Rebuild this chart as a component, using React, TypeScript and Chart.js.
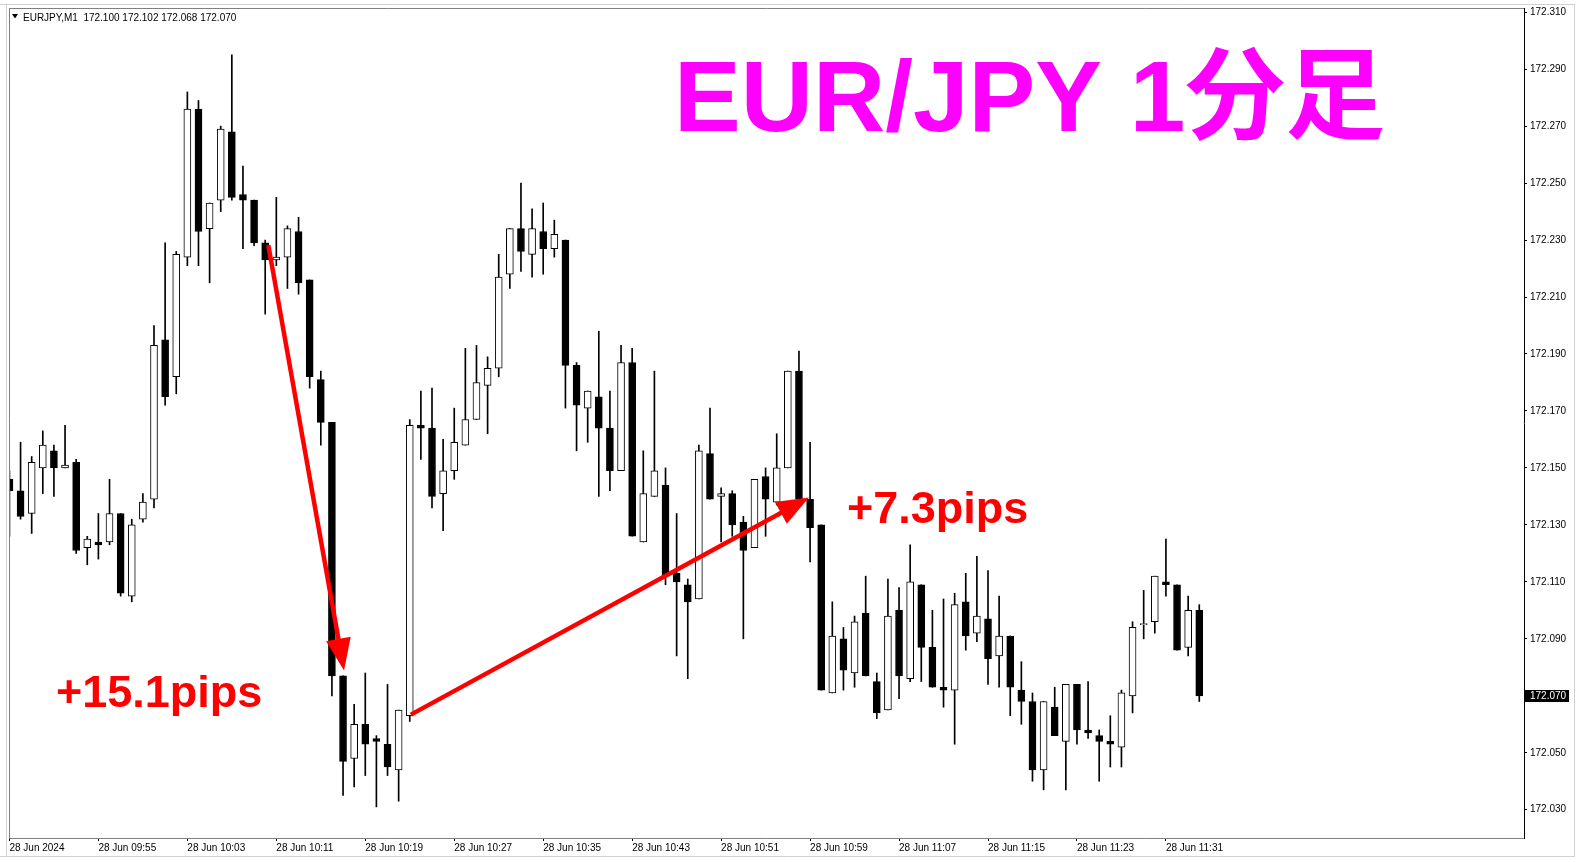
import React, { useEffect, useRef } from "react";
import { Chart, registerables } from "chart.js";

Chart.register(...registerables);

// ---- data (EURJPY M1, 28 Jun 2024 09:47 – 11:34) ----
const opens = [
  172.146, 172.142, 172.134, 172.150, 172.156, 172.150, 172.152, 172.122, 172.124, 172.124,
  172.134, 172.105, 172.132, 172.139, 172.195, 172.182, 172.224, 172.276, 172.234, 172.244,
  172.268, 172.246, 172.244, 172.229, 172.223, 172.224, 172.233, 172.216, 172.181, 172.166,
  172.077, 172.048, 172.060, 172.055, 172.053, 172.044, 172.063, 172.165, 172.164, 172.141,
  172.149, 172.158, 172.167, 172.179, 172.185, 172.218, 172.234, 172.225, 172.233, 172.227,
  172.230, 172.186, 172.171, 172.175, 172.164, 172.149, 172.187, 172.124, 172.140, 172.144,
  172.113, 172.109, 172.104, 172.155, 172.140, 172.141, 172.131, 172.122, 172.147, 172.138,
  172.150, 172.184, 172.139, 172.130, 172.071, 172.090, 172.078, 172.099, 172.075, 172.065,
  172.100, 172.076, 172.109, 172.087, 172.073, 172.072, 172.103, 172.092, 172.097, 172.084,
  172.091, 172.072, 172.068, 172.044, 172.066, 172.054, 172.074, 172.058, 172.056, 172.054,
  172.052, 172.070, 172.095, 172.096, 172.110, 172.109, 172.087, 172.100,
];
const highs = [
  172.149, 172.159, 172.154, 172.163, 172.158, 172.165, 172.153, 172.126, 172.134, 172.146,
  172.134, 172.132, 172.141, 172.200, 172.229, 172.226, 172.282, 172.279, 172.243, 172.270,
  172.295, 172.256, 172.244, 172.230, 172.245, 172.235, 172.238, 172.216, 172.184, 172.166,
  172.077, 172.067, 172.078, 172.056, 172.074, 172.065, 172.167, 172.177, 172.178, 172.160,
  172.171, 172.192, 172.193, 172.189, 172.225, 172.234, 172.250, 172.241, 172.243, 172.237,
  172.230, 172.187, 172.177, 172.198, 172.177, 172.193, 172.192, 172.156, 172.184, 172.150,
  172.134, 172.111, 172.158, 172.171, 172.143, 172.142, 172.133, 172.146, 172.150, 172.162,
  172.184, 172.191, 172.159, 172.130, 172.103, 172.094, 172.098, 172.112, 172.078, 172.111,
  172.108, 172.123, 172.109, 172.100, 172.104, 172.106, 172.113, 172.119, 172.114, 172.105,
  172.091, 172.082, 172.071, 172.068, 172.073, 172.074, 172.074, 172.075, 172.058, 172.063,
  172.072, 172.096, 172.107, 172.112, 172.125, 172.109, 172.105, 172.102,
];
const lows = [
  172.126, 172.132, 172.127, 172.141, 172.140, 172.150, 172.120, 172.116, 172.118, 172.123,
  172.105, 172.103, 172.131, 172.136, 172.172, 172.176, 172.221, 172.221, 172.215, 172.240,
  172.244, 172.227, 172.228, 172.204, 172.221, 172.213, 172.211, 172.178, 172.158, 172.070,
  172.035, 172.038, 172.042, 172.031, 172.042, 172.033, 172.061, 172.153, 172.136, 172.128,
  172.146, 172.158, 172.167, 172.162, 172.182, 172.213, 172.219, 172.217, 172.218, 172.224,
  172.171, 172.156, 172.159, 172.140, 172.142, 172.149, 172.126, 172.124, 172.140, 172.109,
  172.084, 172.076, 172.104, 172.139, 172.124, 172.126, 172.090, 172.122, 172.126, 172.137,
  172.150, 172.139, 172.117, 172.072, 172.071, 172.072, 172.073, 172.077, 172.062, 172.065,
  172.069, 172.075, 172.075, 172.073, 172.066, 172.053, 172.086, 172.089, 172.074, 172.073,
  172.063, 172.060, 172.040, 172.037, 172.056, 172.037, 172.053, 172.055, 172.040, 172.045,
  172.045, 172.064, 172.090, 172.092, 172.105, 172.086, 172.084, 172.068,
];
const closes = [
  172.142, 172.133, 172.152, 172.158, 172.150, 172.151, 172.121, 172.125, 172.123, 172.134,
  172.106, 172.130, 172.138, 172.193, 172.175, 172.225, 172.276, 172.233, 172.243, 172.269,
  172.245, 172.244, 172.229, 172.223, 172.224, 172.234, 172.215, 172.182, 172.166, 172.077,
  172.047, 172.060, 172.053, 172.054, 172.045, 172.065, 172.165, 172.164, 172.140, 172.149,
  172.159, 172.167, 172.180, 172.185, 172.217, 172.234, 172.226, 172.234, 172.227, 172.232,
  172.186, 172.172, 172.177, 172.164, 172.149, 172.187, 172.126, 172.141, 172.149, 172.112,
  172.110, 172.103, 172.156, 172.139, 172.141, 172.130, 172.121, 172.146, 172.139, 172.150,
  172.184, 172.139, 172.129, 172.072, 172.091, 172.079, 172.096, 172.077, 172.064, 172.098,
  172.077, 172.110, 172.087, 172.073, 172.072, 172.102, 172.091, 172.098, 172.083, 172.091,
  172.073, 172.068, 172.044, 172.068, 172.056, 172.074, 172.058, 172.057, 172.054, 172.053,
  172.071, 172.094, 172.095, 172.112, 172.109, 172.086, 172.100, 172.070,
];

const timeLabels = [
  "28 Jun 2024", "28 Jun 09:55", "28 Jun 10:03", "28 Jun 10:11", "28 Jun 10:19",
  "28 Jun 10:27", "28 Jun 10:35", "28 Jun 10:43", "28 Jun 10:51", "28 Jun 10:59",
  "28 Jun 11:07", "28 Jun 11:15", "28 Jun 11:23", "28 Jun 11:31",
];
const barsPerLabel = 8;
const priceTicks = [
  172.03, 172.05, 172.07, 172.09, 172.11, 172.13, 172.15, 172.17,
  172.19, 172.21, 172.23, 172.25, 172.27, 172.29, 172.31,
];

const titleText = "EUR/JPY 1分足";
const headerText = "EURJPY,M1  172.100 172.102 172.068 172.070";

// arrows in data coordinates: [barIndex, price]
const arrowDown = { from: [23.28, 172.2282], to: [30.09, 172.0789] };
const arrowUp = { from: [36.1, 172.0634], to: [71.9, 172.1396] };
const pipLabels = [
  { text: "+15.1pips", x: 56, y: 707 },
  { text: "+7.3pips", x: 847, y: 523 },
];

const W = 1591;
const H = 862;

function drawArrow(ctx: CanvasRenderingContext2D, x1: number, y1: number, x2: number, y2: number) {
  const ang = Math.atan2(y2 - y1, x2 - x1);
  const headLen = 32;
  const headHalf = 12.5;
  const bx = x2 - headLen * Math.cos(ang);
  const by = y2 - headLen * Math.sin(ang);
  ctx.save();
  ctx.strokeStyle = "#ff0000";
  ctx.fillStyle = "#ff0000";
  ctx.lineWidth = 4.5;
  ctx.beginPath();
  ctx.moveTo(x1, y1);
  ctx.lineTo(bx + 2 * Math.cos(ang), by + 2 * Math.sin(ang));
  ctx.stroke();
  ctx.beginPath();
  ctx.moveTo(x2, y2);
  ctx.lineTo(bx - headHalf * Math.sin(ang), by + headHalf * Math.cos(ang));
  ctx.lineTo(bx + headHalf * Math.sin(ang), by - headHalf * Math.cos(ang));
  ctx.closePath();
  ctx.fill();
  ctx.restore();
}

const decorPlugin = {
  id: "decor",
  beforeDraw(chart: any) {
    const ctx = chart.ctx as CanvasRenderingContext2D;
    ctx.save();
    ctx.fillStyle = "#ffffff";
    ctx.fillRect(0, 0, W, H);
    ctx.restore();
  },
  afterDraw(chart: any) {
    const ctx = chart.ctx as CanvasRenderingContext2D;
    const ca = chart.chartArea;
    const xs = chart.scales.x;
    const ys = chart.scales.y;
    ctx.save();

    // outer window lines
    ctx.lineWidth = 1;
    ctx.strokeStyle = "#d0d0d0";
    ctx.beginPath();
    ctx.moveTo(0, 4.5); ctx.lineTo(1575, 4.5);
    ctx.moveTo(6.5, 4.5); ctx.lineTo(6.5, 857);
    ctx.moveTo(1574.5, 4.5); ctx.lineTo(1574.5, 857);
    ctx.moveTo(0, 856.5); ctx.lineTo(1575, 856.5);
    ctx.stroke();

    // plot frame
    ctx.strokeStyle = "#808080";
    ctx.beginPath();
    ctx.moveTo(Math.floor(ca.left) + 0.5, ca.top);
    ctx.lineTo(Math.floor(ca.left) + 0.5, Math.round(ca.bottom) + 0.5);
    ctx.lineTo(Math.round(ca.right), Math.round(ca.bottom) + 0.5);
    ctx.moveTo(Math.floor(ca.left), Math.round(ca.top) - 0.5);
    ctx.lineTo(Math.round(ca.right), Math.round(ca.top) - 0.5);
    ctx.stroke();
    ctx.strokeStyle = "#000000";
    ctx.beginPath();
    ctx.moveTo(Math.round(ca.right) + 0.5, ca.top - 1);
    ctx.lineTo(Math.round(ca.right) + 0.5, Math.round(ca.bottom) + 1);
    ctx.stroke();

    // header
    ctx.fillStyle = "#000";
    ctx.beginPath();
    ctx.moveTo(12, 14);
    ctx.lineTo(18, 14);
    ctx.lineTo(15, 18.5);
    ctx.closePath();
    ctx.fill();
    ctx.font = "10px 'Liberation Sans', Arial, sans-serif";
    ctx.textBaseline = "alphabetic";
    ctx.textAlign = "left";
    ctx.fillText(headerText, 23, 20.5);

    // arrows
    drawArrow(
      ctx,
      xs.getPixelForValue(arrowDown.from[0]), ys.getPixelForValue(arrowDown.from[1]),
      xs.getPixelForValue(arrowDown.to[0]), ys.getPixelForValue(arrowDown.to[1])
    );
    drawArrow(
      ctx,
      xs.getPixelForValue(arrowUp.from[0]), ys.getPixelForValue(arrowUp.from[1]),
      xs.getPixelForValue(arrowUp.to[0]), ys.getPixelForValue(arrowUp.to[1])
    );

    // pip labels
    ctx.fillStyle = "#ff0000";
    ctx.font = "bold 45px 'Liberation Sans', Arial, sans-serif";
    for (const p of pipLabels) ctx.fillText(p.text, p.x, p.y);

    // title
    ctx.fillStyle = "#ff00ff";
    ctx.font = "bold 100px 'Liberation Sans', 'Noto Sans CJK JP', sans-serif";
    ctx.fillText(titleText, 674, 131);

    // current price box
    const last = closes[closes.length - 1];
    const py = ys.getPixelForValue(last);
    ctx.fillStyle = "#000";
    ctx.fillRect(Math.round(ca.right) + 1, Math.round(py) - 6, 44, 12);
    ctx.fillStyle = "#fff";
    ctx.font = "10px 'Liberation Sans', Arial, sans-serif";
    ctx.textBaseline = "middle";
    ctx.fillText(last.toFixed(3), Math.round(ca.right) + 6, Math.round(py) + 0.5);

    ctx.restore();
  },
};

export default function App() {
  const ref = useRef<HTMLCanvasElement | null>(null);

  useEffect(() => {
    if (!ref.current) return;
    const areaTop = 8;
    const areaBottom = 838;
    const areaLeft = 9;
    const areaRight = 1524;
    // pixel calibration of the reference
    const pxPerPrice = 2852;
    const yMax = 172.31 + (11.2 - areaTop) / pxPerPrice;
    const yMin = 172.03 - (areaBottom - 809.7) / pxPerPrice;
    const barStep = 11.12;
    const firstBarX = 9.44;
    const xMin = (areaLeft - firstBarX) / barStep;
    const xMax = (areaRight - firstBarX) / barStep;

    const bodyColors = opens.map((o, i) => (closes[i] >= o ? "#ffffff" : "#000000"));
    const tickIdx = timeLabels.map((_, k) => k * barsPerLabel);

    const chart = new Chart(ref.current, {
      type: "bar",
      data: {
        datasets: [
          {
            label: "body",
            data: opens.map((o, i) => ({ x: i, y: [o, closes[i]] })) as any,
            backgroundColor: bodyColors,
            borderColor: "#000000",
            borderWidth: 1,
            borderSkipped: false,
            barThickness: 7,
            minBarLength: 1,
            grouped: false,
            order: 1,
          },
          {
            label: "wick",
            data: lows.map((l, i) => ({ x: i, y: [l, highs[i]] })) as any,
            backgroundColor: "#000000",
            borderWidth: 0,
            barThickness: 1,
            grouped: false,
            order: 2,
          },
        ],
      },
      options: {
        responsive: false,
        animation: false,
        devicePixelRatio: 1,
        layout: { padding: { left: areaLeft, top: areaTop, right: 0, bottom: 0 } },
        plugins: { legend: { display: false }, tooltip: { enabled: false } },
        scales: {
          x: {
            type: "linear",
            min: xMin,
            max: xMax,
            offset: false,
            grid: { display: true, drawOnChartArea: false, drawTicks: true, tickLength: 3, color: "#000", offset: false },
            border: { display: false },
            afterBuildTicks: (scale: any) => {
              scale.ticks = tickIdx.map((v) => ({ value: v }));
            },
            afterFit: (scale: any) => {
              scale.height = H - areaBottom;
            },
            ticks: {
              autoSkip: false,
              maxRotation: 0,
              minRotation: 0,
              align: "start",
              padding: 1,
              color: "#000",
              font: { family: "'Liberation Sans', Arial, sans-serif", size: 10 },
              callback: (_v: any, idx: number) => timeLabels[idx] ?? "",
            },
          },
          y: {
            type: "linear",
            position: "right",
            min: yMin,
            max: yMax,
            beginAtZero: false,
            grid: { display: true, drawOnChartArea: false, drawTicks: true, tickLength: 3, color: "#000" },
            border: { display: false },
            afterBuildTicks: (scale: any) => {
              scale.ticks = priceTicks.map((v) => ({ value: v }));
            },
            afterFit: (scale: any) => {
              scale.width = W - areaRight;
            },
            ticks: {
              autoSkip: false,
              padding: 3,
              color: "#000",
              font: { family: "'Liberation Sans', Arial, sans-serif", size: 10 },
              callback: (v: any) => Number(v).toFixed(3),
            },
          },
        },
      },
      plugins: [decorPlugin],
    } as any);

    return () => chart.destroy();
  }, []);

  return (
    <div style={{ position: "absolute", left: 0, top: 0, width: W, height: H, background: "#fff" }}>
      <canvas ref={ref} width={W} height={H} style={{ display: "block", width: W, height: H }} />
    </div>
  );
}
